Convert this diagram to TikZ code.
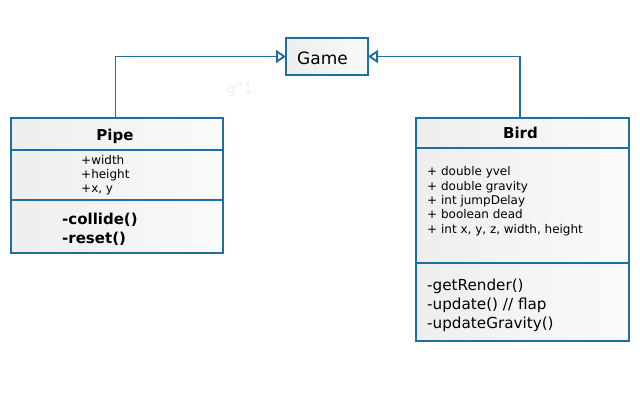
\documentclass[tikz,border=0pt]{standalone}
\usepackage{fontspec}
\setmainfont{DejaVu Sans}
\usetikzlibrary{arrows.meta}
\definecolor{umlblue}{HTML}{1F6EA0}
\definecolor{shadeL}{HTML}{EEEEEE}
\definecolor{shadeR}{HTML}{FAFAFA}
\definecolor{ghost}{HTML}{EFEFEF}
\begin{document}
\begin{tikzpicture}[x=1pt,y=-1pt,
  comp/.style={draw=umlblue, line width=1.9pt, left color=shadeL, right color=shadeR,
    inner sep=0pt, outer sep=0pt, anchor=north west},
  titletext/.style={font=\bfseries\fontsize{15}{18}\selectfont, anchor=base, inner sep=0pt},
  attrtext/.style={font=\fontsize{12}{14}\selectfont, anchor=base west, inner sep=0pt},
  pipemeth/.style={font=\bfseries\fontsize{15}{18}\selectfont, anchor=base west, inner sep=0pt},
  birdmeth/.style={font=\fontsize{15.2}{18}\selectfont, anchor=base west, inner sep=0pt},
  inherit/.style={draw=umlblue, line width=1.9pt,
    -{Triangle[fill=white, length=10pt, width=13pt]}}]
\useasboundingbox (0,0) rectangle (640,400);

% Game
\node[comp, minimum width=82pt, minimum height=37pt] (game) at (286,38) {};
\node[font=\fontsize{17}{20}\selectfont, anchor=base, inner sep=0pt] (gameName) at (322.5,64.7) {Game};

% Pipe
\node[comp, minimum width=212pt, minimum height=32pt] (pipeT) at (11,118) {};
\node[comp, minimum width=212pt, minimum height=50pt] (pipeA) at (11,150) {};
\node[comp, minimum width=212pt, minimum height=53pt] (pipeM) at (11,200) {};
\node[titletext] (pipeName) at (115,140.7) {Pipe};
\node[attrtext] (pa1) at (81,164) {+width};
\node[attrtext] (pa2) at (81,178.5) {+height};
\node[attrtext] (pa3) at (81,192.8) {+x, y};
\node[pipemeth] (pm1) at (62,224) {-collide()};
\node[pipemeth] (pm2) at (62,243.3) {-reset()};

% Bird
\node[comp, minimum width=213pt, minimum height=30pt] (birdT) at (416,118) {};
\node[comp, minimum width=213pt, minimum height=115pt] (birdA) at (416,148) {};
\node[comp, minimum width=213pt, minimum height=78pt] (birdM) at (416,263) {};
\node[titletext] (birdName) at (520.5,138.7) {Bird};
\node[attrtext] (ba1) at (427,175.7) {+ double yvel};
\node[attrtext] (ba2) at (427,190) {+ double gravity};
\node[attrtext] (ba3) at (427,204.4) {+ int jumpDelay};
\node[attrtext] (ba4) at (427,218.8) {+ boolean dead};
\node[attrtext] (ba5) at (427,233.2) {+ int x, y, z, width, height};
\node[birdmeth] (bm1) at (427,290) {-getRender()};
\node[birdmeth] (bm2) at (427,309.3) {-update() // flap};
\node[birdmeth] (bm3) at (427,328.5) {-updateGravity()};

% faint label
\node[font=\fontsize{14.5}{17}\selectfont, text=ghost, anchor=base west, inner sep=0pt] (ghostlabel) at (226.5,93.3) {g"1};

% generalisations
\draw[inherit] ([xshift=-1.5pt]pipeT.north) |- (game.west);
\draw[inherit] ([xshift=-2.5pt]birdT.north) |- (game.east);
\end{tikzpicture}
\end{document}
